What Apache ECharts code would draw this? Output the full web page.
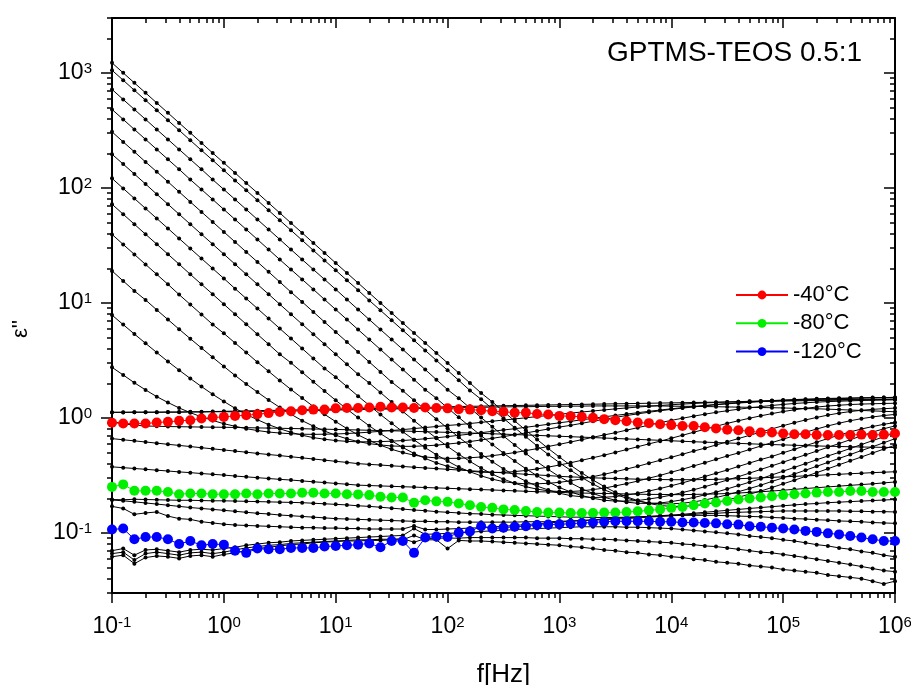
<!DOCTYPE html>
<html><head><meta charset="utf-8">
<script src="https://cdn.jsdelivr.net/npm/echarts@6/dist/echarts.min.js"></script>
<style>html,body{margin:0;padding:0;background:#fff}#c{width:911px;height:685px}</style>
</head><body><div id="c"></div>
<script>
const freq = [0.1,0.1259,0.1585,0.1995,0.2512,0.3162,0.3981,0.5012,0.631,0.7943,
 1,1.259,1.585,1.995,2.512,3.162,3.981,5.012,6.31,7.943,
 10,12.59,15.85,19.95,25.12,31.62,39.81,50.12,63.1,79.43,
 100,125.9,158.5,199.5,251.2,316.2,398.1,501.2,631,794.3,
 1000,1259,1585,1995,2512,3162,3981,5012,6310,7943,
 10000,12590,15850,19950,25120,31620,39810,50120,63100,79430,
 100000,125900,158500,199500,251200,316200,398100,501200,631000,794300,1000000];

const xMajorTicks = [0.1,1,10,100,1000,10000,100000,1000000];
const xMinorTicks = [0.2,0.3,0.4,0.5,0.6,0.7,0.8,0.9,2,3,4,5,6,7,8,9,20,30,40,50,60,70,80,90,
 200,300,400,500,600,700,800,900,2000,3000,4000,5000,6000,7000,8000,9000,
 20000,30000,40000,50000,60000,70000,80000,90000,200000,300000,400000,500000,600000,700000,800000,900000];
const yMajorTicks = [0.1,1,10,100,1000];
const yMinorTicks = [0.03,0.04,0.05,0.06,0.07,0.08,0.09,0.2,0.3,0.4,0.5,0.6,0.7,0.8,0.9,
 2,3,4,5,6,7,8,9,20,30,40,50,60,70,80,90,200,300,400,500,600,700,800,900,2000,3000];

const legendNames = ['-40°C','-80°C','-120°C'];

// highlighted temperatures
const red40 = [0.906,0.893,0.893,0.893,0.912,0.923,0.942,0.955,0.989,1.007,
 1.02,1.04,1.054,1.076,1.10,1.127,1.14,1.165,1.18,1.18,
 1.21,1.22,1.22,1.23,1.25,1.23,1.23,1.22,1.23,1.22,
 1.21,1.19,1.18,1.165,1.14,1.13,1.11,1.11,1.08,1.07,
 1.04,1.035,1.02,1.00,0.975,0.955,0.935,0.91,0.90,0.88,
 0.865,0.85,0.85,0.83,0.81,0.79,0.78,0.765,0.745,0.745,
 0.73,0.72,0.72,0.71,0.71,0.71,0.71,0.715,0.71,0.715,0.73];
const green80 = [0.251,0.264,0.232,0.232,0.232,0.227,0.217,0.220,0.220,0.217,
 0.217,0.217,0.220,0.217,0.220,0.220,0.220,0.223,0.223,0.220,
 0.220,0.217,0.216,0.213,0.206,0.203,0.203,0.183,0.192,0.188,
 0.186,0.180,0.174,0.168,0.165,0.160,0.158,0.155,0.152,0.150,
 0.150,0.149,0.149,0.149,0.150,0.150,0.152,0.154,0.157,0.160,
 0.165,0.168,0.174,0.180,0.184,0.189,0.195,0.199,0.203,0.208,
 0.213,0.217,0.220,0.224,0.227,0.227,0.231,0.231,0.227,0.227,0.227];
const blue120 = [0.107,0.109,0.088,0.092,0.092,0.088,0.080,0.085,0.078,0.080,
 0.079,0.070,0.067,0.073,0.072,0.072,0.074,0.074,0.074,0.076,
 0.077,0.078,0.079,0.081,0.075,0.085,0.085,0.067,0.091,0.093,
 0.092,0.100,0.103,0.114,0.109,0.111,0.113,0.114,0.117,0.118,
 0.119,0.120,0.122,0.123,0.125,0.126,0.126,0.126,0.126,0.125,
 0.125,0.123,0.123,0.122,0.121,0.119,0.118,0.114,0.113,0.111,
 0.109,0.107,0.104,0.102,0.099,0.097,0.094,0.091,0.088,0.085,0.085];

// other temperatures (black)
const t100 = [1222,1000,818.5,670,548,449,367,301,246,201,
 165,135,110,90.4,74.0,60.5,49.5,40.6,33.2,27.2,
 22.2,18.2,14.9,12.2,9.98,8.17,6.68,5.47,4.48,3.66,
 3.0,2.455,2.01,1.644,1.377,1.138,0.940,0.780,0.649,0.542,
 0.456,0.387,0.332,0.288,0.253,0.225,0.206,0.191,0.180,0.173,
 0.170,0.170,0.172,0.177,0.184,0.193,0.204,0.217,0.231,0.248,
 0.267,0.287,0.310,0.334,0.361,0.391,0.423,0.457,0.495,0.535,0.579];
const t90 = [1054,863,706,578,473,387,317,259,212,174,
 142,116,95.3,78.0,63.8,52.2,42.8,35.0,28.6,23.4,
 19.2,15.7,12.9,10.5,8.61,7.05,5.77,4.72,3.86,3.16,
 2.59,2.12,1.73,1.45,1.20,0.991,0.822,0.684,0.571,0.481,
 0.408,0.350,0.303,0.266,0.237,0.217,0.200,0.189,0.182,0.179,
 0.179,0.181,0.186,0.193,0.203,0.214,0.228,0.243,0.260,0.280,
 0.301,0.325,0.351,0.379,0.410,0.444,0.480,0.520,0.561,0.608,0.659];
const t80 = [718,587,481,394,322,264,216,177,145,118,
 96.8,79.3,64.9,53.1,43.5,35.6,29.1,23.8,19.5,16.0,
 13.1,10.7,8.75,7.16,5.86,4.80,3.93,3.21,2.63,2.15,
 1.76,1.479,1.219,1.007,0.836,0.695,0.581,0.489,0.415,0.356,
 0.308,0.272,0.242,0.220,0.204,0.192,0.185,0.181,0.180,0.182,
 0.187,0.194,0.203,0.214,0.226,0.241,0.258,0.276,0.296,0.319,
 0.344,0.371,0.400,0.432,0.466,0.501,0.542,0.586,0.634,0.685,0.741];
const t70 = [481,394,322,264,216,177,145,118,96.8,79.3,
 64.9,53.1,43.5,35.6,29.1,23.8,19.5,16.0,13.1,10.7,
 8.75,7.16,5.86,4.80,3.93,3.21,2.63,2.15,1.76,1.48,
 1.22,1.01,0.839,0.700,0.586,0.494,0.421,0.361,0.314,0.278,
 0.248,0.227,0.211,0.200,0.192,0.189,0.189,0.191,0.197,0.204,
 0.213,0.224,0.237,0.252,0.269,0.288,0.308,0.331,0.356,0.383,
 0.412,0.444,0.477,0.514,0.555,0.598,0.646,0.697,0.752,0.804,0.851];
const t60 = [307,251,206,168,138,113,92.3,75.5,61.8,50.6,
 41.4,33.9,27.7,22.7,18.6,15.2,12.4,10.2,8.34,6.82,
 5.58,4.57,3.74,3.06,2.51,2.05,1.72,1.42,1.175,0.975,
 0.813,0.679,0.573,0.485,0.416,0.360,0.316,0.281,0.255,0.236,
 0.221,0.211,0.206,0.203,0.204,0.207,0.213,0.221,0.231,0.243,
 0.257,0.272,0.290,0.309,0.330,0.352,0.378,0.405,0.434,0.462,
 0.497,0.533,0.573,0.615,0.661,0.708,0.755,0.800,0.841,0.879,0.912];
const t50 = [196,161,132,108,88.1,72.1,59.0,48.3,39.5,32.4,
 26.5,21.7,17.7,14.5,11.9,9.73,7.96,6.52,5.33,4.37,
 3.57,2.92,2.39,2.01,1.66,1.371,1.138,0.946,0.791,0.665,
 0.564,0.483,0.418,0.366,0.324,0.293,0.270,0.252,0.240,0.232,
 0.229,0.229,0.232,0.238,0.245,0.256,0.268,0.282,0.299,0.316,
 0.337,0.358,0.382,0.407,0.436,0.466,0.495,0.531,0.569,0.610,
 0.653,0.700,0.750,0.800,0.851,0.899,0.944,0.984,1.019,1.047,1.072];
const t40 = [121,98.9,80.9,66.2,54.2,44.4,36.3,29.7,24.3,19.9,
 16.3,13.3,10.9,8.93,7.31,5.98,4.90,4.01,3.28,2.69,
 2.26,1.87,1.545,1.285,1.069,0.897,0.757,0.644,0.551,0.478,
 0.421,0.373,0.340,0.313,0.293,0.279,0.271,0.267,0.267,0.270,
 0.275,0.284,0.295,0.308,0.323,0.340,0.359,0.379,0.403,0.428,
 0.454,0.483,0.514,0.545,0.581,0.619,0.661,0.705,0.752,0.802,
 0.855,0.908,0.959,1.009,1.057,1.099,1.135,1.164,1.186,1.202,1.216];
const t30 = [72.1,59.0,48.3,39.5,32.4,26.5,21.7,17.7,14.5,11.9,
 9.73,7.96,6.52,5.33,4.37,3.57,3.01,2.49,2.06,1.71,
 1.422,1.191,1.005,0.853,0.730,0.631,0.553,0.490,0.444,0.406,
 0.379,0.359,0.344,0.337,0.335,0.336,0.341,0.349,0.360,0.373,
 0.389,0.407,0.428,0.450,0.474,0.501,0.530,0.561,0.594,0.627,
 0.665,0.706,0.750,0.796,0.845,0.895,0.944,0.993,1.042,1.089,
 1.135,1.175,1.211,1.242,1.268,1.288,1.306,1.318,1.327,1.334,1.34];
const t20 = [39.4,32.2,26.4,21.6,17.7,14.5,11.8,9.68,7.93,6.49,
 5.43,4.48,3.70,3.05,2.54,2.11,1.766,1.486,1.256,1.074,
 0.927,0.807,0.711,0.637,0.578,0.533,0.499,0.474,0.457,0.449,
 0.444,0.445,0.450,0.457,0.469,0.483,0.499,0.519,0.540,0.564,
 0.589,0.617,0.646,0.678,0.711,0.743,0.782,0.822,0.865,0.908,
 0.951,0.993,1.035,1.076,1.117,1.153,1.189,1.222,1.253,1.282,
 1.309,1.334,1.352,1.371,1.384,1.396,1.406,1.416,1.422,1.429,1.435];
const t10 = [18.97,15.5,12.7,10.6,8.69,7.16,5.90,4.88,4.05,3.36,
 2.80,2.34,1.97,1.675,1.429,1.233,1.076,0.946,0.847,0.767,
 0.706,0.658,0.622,0.597,0.581,0.570,0.565,0.566,0.571,0.579,
 0.592,0.605,0.622,0.643,0.664,0.687,0.713,0.740,0.769,0.800,
 0.832,0.861,0.897,0.935,0.973,1.009,1.047,1.084,1.119,1.153,
 1.186,1.216,1.245,1.274,1.300,1.324,1.346,1.365,1.384,1.400,
 1.416,1.429,1.442,1.452,1.462,1.472,1.479,1.486,1.493,1.500,1.507];
const t0 = [7.83,6.47,5.36,4.45,3.70,3.09,2.60,2.20,1.871,1.603,
 1.390,1.211,1.072,0.964,0.873,0.804,0.748,0.706,0.673,0.652,
 0.635,0.625,0.619,0.619,0.622,0.627,0.635,0.646,0.658,0.671,
 0.687,0.705,0.723,0.743,0.764,0.785,0.804,0.828,0.853,0.879,
 0.906,0.933,0.962,0.991,1.021,1.050,1.079,1.109,1.140,1.169,
 1.199,1.227,1.256,1.282,1.309,1.334,1.355,1.377,1.396,1.413,
 1.429,1.442,1.455,1.466,1.476,1.483,1.489,1.496,1.500,1.503,1.507];
const tm10 = [2.75,2.36,2.02,1.75,1.53,1.36,1.22,1.11,1.02,0.95,
 0.89,0.845,0.805,0.776,0.753,0.738,0.728,0.721,0.719,0.721,
 0.724,0.731,0.740,0.751,0.764,0.776,0.791,0.807,0.824,0.841,
 0.859,0.873,0.893,0.914,0.935,0.957,0.979,1.002,1.026,1.050,
 1.074,1.099,1.125,1.148,1.172,1.197,1.219,1.242,1.262,1.282,
 1.300,1.318,1.334,1.349,1.361,1.374,1.384,1.393,1.403,1.409,
 1.416,1.422,1.429,1.435,1.439,1.442,1.445,1.449,1.452,1.455,1.459];
const tm20 = [1.115,1.115,1.12,1.12,1.12,1.125,1.125,1.13,1.13,1.135,
 1.14,1.145,1.15,1.155,1.16,1.165,1.17,1.175,1.18,1.185,
 1.19,1.195,1.2,1.205,1.21,1.215,1.22,1.225,1.23,1.24,
 1.25,1.255,1.26,1.265,1.27,1.275,1.28,1.285,1.29,1.295,
 1.30,1.305,1.31,1.315,1.32,1.325,1.33,1.335,1.34,1.345,
 1.35,1.355,1.36,1.365,1.37,1.375,1.38,1.385,1.39,1.395,
 1.40,1.405,1.41,1.415,1.42,1.425,1.43,1.435,1.44,1.445,1.45];
const tm30 = [1.12,1.12,1.12,1.12,1.12,1.12,1.12,1.125,1.125,1.13,
 1.13,1.13,1.135,1.14,1.14,1.145,1.15,1.155,1.16,1.165,
 1.17,1.175,1.18,1.185,1.19,1.195,1.2,1.205,1.21,1.215,
 1.22,1.225,1.23,1.235,1.24,1.245,1.25,1.25,1.255,1.26,
 1.26,1.265,1.265,1.27,1.27,1.27,1.27,1.27,1.27,1.27,
 1.265,1.26,1.26,1.255,1.25,1.245,1.24,1.235,1.23,1.225,
 1.22,1.21,1.205,1.2,1.19,1.18,1.17,1.16,1.15,1.14,1.13];
const tm50 = [0.93,0.89,0.865,0.85,0.845,0.84,0.838,0.835,0.832,0.83,
 0.828,0.825,0.822,0.818,0.815,0.812,0.808,0.805,0.80,0.797,
 0.793,0.789,0.785,0.78,0.776,0.772,0.768,0.763,0.758,0.753,
 0.748,0.743,0.738,0.733,0.727,0.722,0.716,0.71,0.704,0.698,
 0.692,0.686,0.68,0.674,0.668,0.662,0.656,0.65,0.644,0.638,
 0.632,0.626,0.62,0.615,0.61,0.605,0.6,0.595,0.59,0.586,
 0.582,0.578,0.574,0.57,0.567,0.564,0.561,0.558,0.556,0.554,0.552];
const tm60 = [0.66,0.645,0.631,0.617,0.603,0.589,0.576,0.563,0.550,0.538,
 0.526,0.514,0.503,0.491,0.48,0.47,0.459,0.449,0.439,0.429,
 0.419,0.41,0.40,0.394,0.389,0.383,0.378,0.372,0.367,0.362,
 0.357,0.352,0.347,0.342,0.337,0.333,0.328,0.323,0.319,0.315,
 0.31,0.307,0.304,0.301,0.299,0.297,0.295,0.293,0.292,0.291,
 0.29,0.29,0.29,0.291,0.292,0.294,0.296,0.298,0.301,0.304,
 0.307,0.31,0.313,0.316,0.32,0.323,0.327,0.33,0.334,0.337,0.34];
const tm70 = [0.375,0.369,0.363,0.357,0.351,0.345,0.339,0.334,0.328,0.323,
 0.318,0.312,0.307,0.302,0.297,0.292,0.288,0.283,0.278,0.274,
 0.269,0.265,0.26,0.258,0.256,0.254,0.252,0.25,0.248,0.246,
 0.244,0.242,0.24,0.238,0.236,0.234,0.232,0.23,0.228,0.227,
 0.225,0.223,0.222,0.221,0.22,0.219,0.218,0.217,0.216,0.216,
 0.215,0.215,0.216,0.217,0.218,0.22,0.222,0.225,0.228,0.231,
 0.235,0.239,0.243,0.247,0.251,0.255,0.259,0.263,0.267,0.272,0.277];
const tm90 = [0.195,0.194,0.196,0.195,0.194,0.193,0.192,0.192,0.191,0.19,
 0.19,0.189,0.188,0.187,0.186,0.185,0.184,0.183,0.181,0.179,
 0.177,0.175,0.172,0.17,0.167,0.164,0.161,0.158,0.156,0.153,
 0.151,0.149,0.147,0.146,0.144,0.143,0.142,0.141,0.14,0.139,
 0.138,0.137,0.137,0.136,0.136,0.136,0.137,0.138,0.139,0.141,
 0.143,0.145,0.148,0.151,0.154,0.157,0.16,0.163,0.166,0.169,
 0.172,0.175,0.178,0.18,0.183,0.185,0.187,0.189,0.191,0.193,0.195];
const tm100 = [0.193,0.19,0.186,0.182,0.178,0.174,0.17,0.166,0.163,0.16,
 0.157,0.154,0.151,0.148,0.146,0.143,0.141,0.139,0.137,0.135,
 0.133,0.132,0.131,0.13,0.129,0.128,0.127,0.126,0.126,0.125,
 0.125,0.124,0.124,0.124,0.124,0.124,0.124,0.125,0.125,0.125,
 0.126,0.127,0.128,0.129,0.13,0.132,0.133,0.135,0.137,0.139,
 0.141,0.143,0.145,0.147,0.148,0.15,0.151,0.152,0.153,0.154,
 0.155,0.155,0.155,0.155,0.155,0.155,0.154,0.154,0.153,0.153,0.152];
const tm110 = [0.17,0.163,0.145,0.149,0.152,0.14,0.133,0.131,0.125,0.122,
 0.119,0.117,0.116,0.115,0.114,0.113,0.112,0.111,0.111,0.110,
 0.110,0.109,0.109,0.108,0.108,0.108,0.108,0.115,0.107,0.107,
 0.108,0.109,0.11,0.111,0.113,0.114,0.116,0.118,0.12,0.122,
 0.124,0.126,0.128,0.13,0.132,0.134,0.136,0.137,0.139,0.14,
 0.141,0.142,0.142,0.142,0.142,0.141,0.14,0.139,0.138,0.136,
 0.135,0.133,0.132,0.13,0.129,0.127,0.126,0.125,0.123,0.122,0.121];
const tm130 = [0.070,0.073,0.064,0.071,0.072,0.070,0.068,0.071,0.072,0.071,
 0.073,0.075,0.078,0.080,0.082,0.083,0.085,0.086,0.087,0.088,
 0.089,0.090,0.091,0.092,0.093,0.094,0.095,0.109,0.097,0.098,
 0.099,0.100,0.101,0.103,0.104,0.105,0.107,0.108,0.109,0.110,
 0.111,0.112,0.113,0.113,0.113,0.113,0.112,0.112,0.111,0.110,
 0.109,0.107,0.105,0.103,0.101,0.099,0.097,0.094,0.092,0.090,
 0.087,0.085,0.082,0.079,0.077,0.074,0.072,0.069,0.067,0.064,0.062];
const tm140 = [0.066,0.068,0.058,0.066,0.068,0.066,0.064,0.067,0.068,0.066,
 0.068,0.071,0.074,0.076,0.078,0.079,0.081,0.082,0.083,0.084,
 0.085,0.086,0.087,0.087,0.088,0.088,0.089,0.083,0.089,0.090,
 0.090,0.090,0.091,0.091,0.091,0.091,0.091,0.091,0.090,0.090,
 0.090,0.089,0.089,0.088,0.088,0.087,0.086,0.085,0.084,0.083,
 0.082,0.080,0.079,0.077,0.076,0.074,0.072,0.070,0.068,0.067,
 0.065,0.063,0.061,0.059,0.057,0.055,0.053,0.051,0.049,0.047,0.046];
const tm150 = [0.062,0.064,0.054,0.061,0.063,0.062,0.060,0.063,0.064,0.062,
 0.065,0.067,0.070,0.073,0.075,0.077,0.079,0.080,0.082,0.083,
 0.084,0.085,0.085,0.086,0.086,0.087,0.087,0.095,0.087,0.087,
 0.073,0.086,0.085,0.085,0.084,0.083,0.082,0.081,0.080,0.079,
 0.078,0.076,0.075,0.073,0.071,0.070,0.068,0.067,0.065,0.064,
 0.062,0.061,0.059,0.058,0.056,0.055,0.054,0.052,0.051,0.050,
 0.048,0.047,0.046,0.045,0.043,0.042,0.041,0.040,0.038,0.036,0.038];

const blackCurves = [t100,t90,t80,t70,t60,t50,t40,t30,t20,t10,t0,tm10,tm20,tm30,tm50,tm60,tm70,tm90,tm100,tm110,tm130,tm140,tm150];

const FONT = '"Liberation Sans", Arial, sans-serif';
const chart = echarts.init(document.getElementById('c'));
function pair(vals){ return vals.map((v,i)=>[freq[i], v]); }
function powLabel(v){ const e = Math.round(Math.log10(v)); return '{b|10}{s|' + e + '}'; }
const rich = {
  b:{fontSize:23, fontFamily:FONT, color:'#000', lineHeight:23, verticalAlign:'bottom', padding:[3,0,0,0]},
  s:{fontSize:15, fontFamily:FONT, color:'#000', lineHeight:15, verticalAlign:'top'}
};
const XMIN=0.1, XMAX=1e6, YMIN=0.03, YMAX=3000;
function xAx(pos, vals, len, inside, labels, line){
  return {type:'log', logBase:10, min:XMIN, max:XMAX, position:pos,
    axisLine:{show:line, onZero:false, lineStyle:{color:'#000', width:2}},
    axisTick:{show:true, inside:inside, length:len, customValues:vals, lineStyle:{color:'#000', width:1.5}},
    axisLabel:{show:labels, customValues:vals, formatter:powLabel, rich:rich, margin:22},
    splitLine:{show:false}, minorTick:{show:false}};
}
function yAx(pos, vals, len, inside, labels, line){
  return {type:'log', logBase:10, min:YMIN, max:YMAX, position:pos,
    axisLine:{show:line, onZero:false, lineStyle:{color:'#000', width:2}},
    axisTick:{show:true, inside:inside, length:len, customValues:vals, lineStyle:{color:'#000', width:1.5}},
    axisLabel:{show:labels, customValues:vals, formatter:powLabel, rich:rich, margin:20},
    splitLine:{show:false}, minorTick:{show:false}};
}
const xAxes = [
  xAx('bottom', xMajorTicks, 10, false, true, true),
  xAx('bottom', xMinorTicks, 5, false, false, false),
  xAx('top', xMajorTicks, 10, true, false, true),
  xAx('top', xMinorTicks, 5, true, false, false)
];
xAxes[0].name = 'f[Hz]';
xAxes[0].nameLocation = 'middle';
xAxes[0].nameGap = 69;
xAxes[0].nameTextStyle = {fontSize:26, fontFamily:FONT, color:'#000'};
const yAxes = [
  yAx('left', yMajorTicks, 11, false, true, true),
  yAx('left', yMinorTicks, 5, false, false, false),
  yAx('right', yMajorTicks, 11, true, false, true),
  yAx('right', yMinorTicks, 5, true, false, false)
];

const series = blackCurves.map(vals => ({type:'line', data:pair(vals), xAxisIndex:0, yAxisIndex:0,
  symbol:'circle', symbolSize:4, showSymbol:true, showAllSymbol:true,
  itemStyle:{color:'#000', borderWidth:0}, lineStyle:{color:'#000', width:1},
  z:3, silent:true, animation:false}));
function coloredSeries(name, vals, color){
  return {name:name, type:'line', data:pair(vals), xAxisIndex:0, yAxisIndex:0,
    symbol:'circle', symbolSize:10, showSymbol:true, showAllSymbol:true,
    itemStyle:{color:color, borderWidth:0}, lineStyle:{color:color, width:1},
    z:5, silent:true, animation:false};
}
series.push(coloredSeries(legendNames[0], red40, '#ff0000'));
series.push(coloredSeries(legendNames[1], green80, '#00f000'));
series.push(coloredSeries(legendNames[2], blue120, '#0000ff'));

chart.setOption({
  animation:false,
  backgroundColor:'#fff',
  grid:{left:112, top:18, width:783, height:575, containLabel:false, outerBoundsMode:'none'},
  xAxis:xAxes, yAxis:yAxes,
  legend:{data:legendNames, orient:'vertical', left:730, top:279, itemWidth:52, itemHeight:11, itemGap:6.3,
    textStyle:{fontSize:22, fontFamily:FONT, color:'#000', lineHeight:22}, selectedMode:false},
  graphic:[
    {type:'text', x:607, y:53, style:{text:'GPTMS-TEOS 0.5:1', fontSize:28, fontFamily:FONT, fill:'#000', align:'left', verticalAlign:'middle'}},
    {type:'text', x:21, y:329, rotation:Math.PI/2, style:{text:"ε''", fontSize:22, fontFamily:FONT, fill:'#000', align:'center', verticalAlign:'middle'}}
  ],
  series:series
});
</script></body></html>
